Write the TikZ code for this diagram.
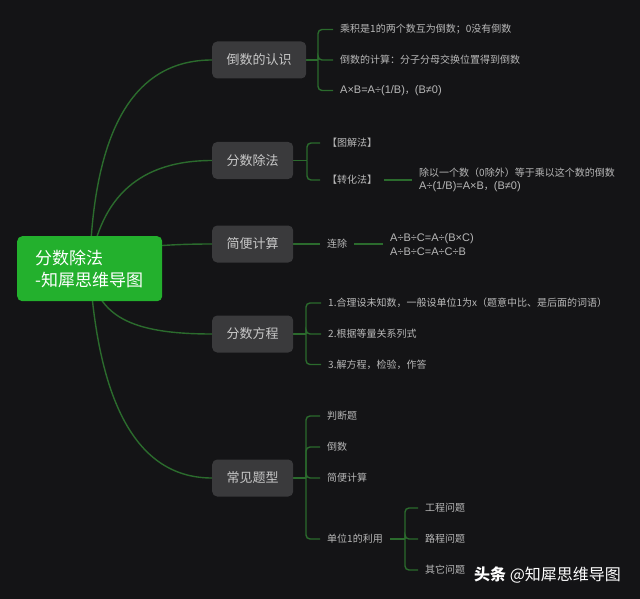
\documentclass[tikz,border=0pt]{standalone}
\usepackage{fontspec}
\setmainfont{Noto Sans CJK SC}
\newfontfamily\latfontbase{Liberation Sans}
\newcommand{\latfont}{\latfontbase\fontsize{11}{13.5}\selectfont}
\definecolor{bgc}{HTML}{141416}
\definecolor{nodegray}{HTML}{3A3A3C}
\definecolor{nodetext}{HTML}{C8C8C8}
\definecolor{leaftext}{HTML}{B8B8B8}
\definecolor{linegreen}{HTML}{2B6B2D}
\definecolor{rootgreen}{HTML}{23B02D}
\pgfdeclarelayer{bg}
\pgfdeclarelayer{edges}
\pgfsetlayers{bg,edges,main}
\begin{document}
\begin{tikzpicture}[x=1pt,y=-1pt,
  rootbox/.style={fill=rootgreen, rounded corners=5pt, text=white,
    font=\fontsize{17}{22}\selectfont, text width=109pt, align=left,
    inner xsep=18pt, minimum height=65pt, anchor=north west},
  mainbox/.style={fill=nodegray, rounded corners=5pt, text=nodetext,
    font=\fontsize{13}{15}\selectfont, minimum height=37pt, inner xsep=14.5pt, anchor=west},
  leaf/.style={text=leaftext, font=\fontsize{10}{13.5}\selectfont,
    inner xsep=7pt, inner ysep=2pt, anchor=west, align=left},
  conn/.style={draw=linegreen, line width=1.4pt},
  brk/.style={conn, rounded corners=4pt}]
\begin{pgfonlayer}{bg}
\path[fill=bgc] (0,0) rectangle (640,599);
\end{pgfonlayer}

% root and main topics
\node[rootbox] (root) at (17,236) {分数除法\\-知犀思维导图};
\node[mainbox] (n1) at (212,60) {倒数的认识};
\node[mainbox] (n2) at (212,160.5) {分数除法};
\node[mainbox] (n3) at (212,244) {简便计算};
\node[mainbox] (n4) at (212,334) {分数方程};
\node[mainbox] (n5) at (212,478) {常见题型};

% group 1
\coordinate (j1) at (318,60);
\node[leaf] (a1) at (333,29.5) {乘积是1的两个数互为倒数；0没有倒数};
\node[leaf] (a2) at (333,60) {倒数的计算：分子分母交换位置得到倒数};
\node[leaf] (a3) at (333,90.5) {{\latfont A×B=A÷(1/B)}，{\latfont (B≠0)}};

% group 2
\coordinate (j2) at (307,160.5);
\node[leaf] (b1) at (320,143) {【图解法】};
\node[leaf] (b2) at (320,180) {【转化法】};
\node[leaf] (b3) at (412,180) {除以一个数（0除外）等于乘以这个数的倒数\\{\latfont A÷(1/B)=A×B}，{\latfont (B≠0)}};

% group 3
\node[leaf] (c1) at (320,244) {连除};
\node[leaf, font=\latfont] (c2) at (383,244.5) {A÷B÷C=A÷(B×C)\\A÷B÷C=A÷C÷B};

% group 4
\coordinate (j4) at (306,334);
\node[leaf] (d1) at (321,303) {1.合理设未知数，一般设单位1为x（题意中比、是后面的词语）};
\node[leaf] (d2) at (321,334) {2.根据等量关系列式};
\node[leaf] (d3) at (321,364.5) {3.解方程，检验，作答};

% group 5
\coordinate (j5) at (306,478);
\node[leaf] (e1) at (320,416) {判断题};
\node[leaf] (e2) at (320,447) {倒数};
\node[leaf] (e3) at (320,478) {简便计算};
\node[leaf] (e4) at (320,539) {单位1的利用};
\coordinate (j6) at (405,539);
\node[leaf] (f1) at (418,508) {工程问题};
\node[leaf] (f2) at (418,539) {路程问题};
\node[leaf] (f3) at (418,570) {其它问题};

% watermark
\node[anchor=west, text=white, inner sep=0pt, font=\fontsize{16}{18}\selectfont] (wm) at (474,575) {{\bfseries 头条} @知犀思维导图};

\begin{pgfonlayer}{edges}
\draw[conn] (root.center) .. controls (93.3,129.3) and (134,60) .. (n1.west);
\draw[conn] (root.center) .. controls (100,196) and (140.7,160.5) .. (n2.west);
\draw[conn] (root.center) .. controls (96.7,252) and (137.3,244) .. (n3.west);
\draw[conn] (root.center) .. controls (98,316) and (130,334) .. (n4.west);
\draw[conn] (root.center) .. controls (98.7,408) and (139.3,478) .. (n5.west);

\draw[conn] (n1.east) -- (j1);
\foreach \c in {a1,a2,a3} \draw[brk] (j1) |- (\c.west);

\draw[conn] (n2.east) -- (j2);
\foreach \c in {b1,b2} \draw[brk] (j2) |- (\c.west);
\draw[conn] (b2.east) -- (b3.west);

\draw[conn] (n3.east) -- (c1.west);
\draw[conn] (c1.east) -- (c2.west |- c1.east);

\draw[conn] (n4.east) -- (j4);
\foreach \c in {d1,d2,d3} \draw[brk] (j4) |- (\c.west);

\draw[conn] (n5.east) -- (j5);
\foreach \c in {e1,e2,e3,e4} \draw[brk] (j5) |- (\c.west);

\draw[conn] (e4.east) -- (j6);
\foreach \c in {f1,f2,f3} \draw[brk] (j6) |- (\c.west);
\end{pgfonlayer}
\end{tikzpicture}
\end{document}
